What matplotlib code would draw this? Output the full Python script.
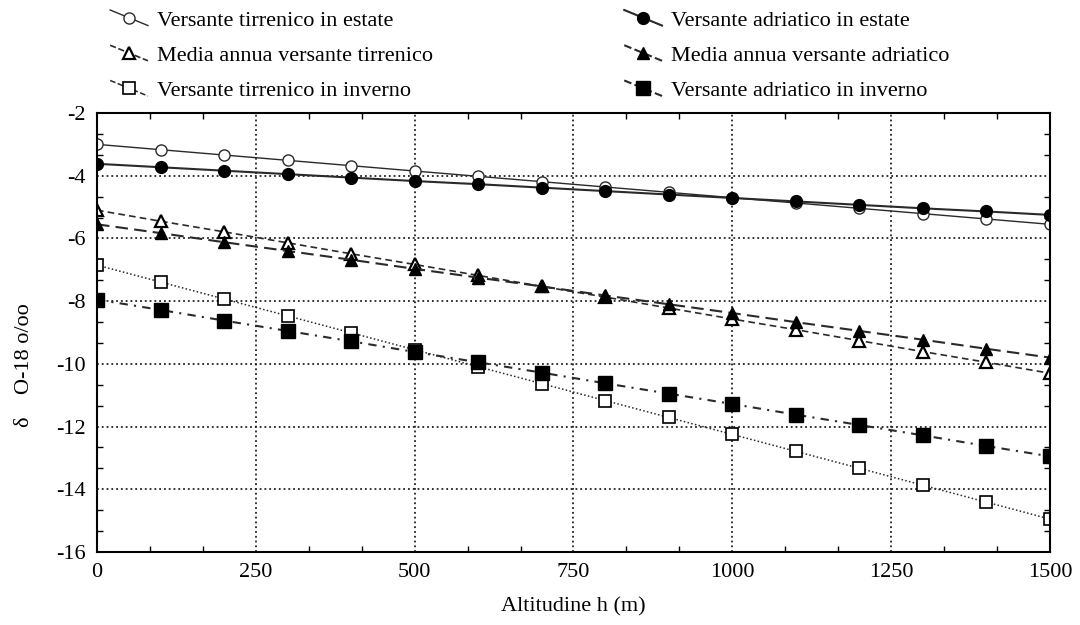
import matplotlib
matplotlib.use("Agg")
import matplotlib.pyplot as plt
from matplotlib.lines import Line2D
from matplotlib.legend_handler import HandlerBase
from matplotlib.ticker import AutoMinorLocator, MultipleLocator

# Altitude (m) and delta O-18 (per mil) for the two slopes
altitude = [0, 100, 200, 300, 400, 500, 600, 700, 800, 900, 1000, 1100, 1200, 1300, 1400, 1500]

tirr_estate = [-3.00, -3.17, -3.34, -3.51, -3.68, -3.85, -4.02, -4.19,
               -4.36, -4.53, -4.70, -4.87, -5.04, -5.21, -5.38, -5.55]
adri_estate = [-3.62, -3.73, -3.84, -3.95, -4.06, -4.17, -4.27, -4.38,
               -4.49, -4.60, -4.71, -4.82, -4.93, -5.04, -5.14, -5.25]
tirr_media = [-5.10, -5.45, -5.79, -6.14, -6.49, -6.83, -7.18, -7.53,
              -7.87, -8.22, -8.57, -8.91, -9.26, -9.61, -9.95, -10.30]
adri_media = [-5.55, -5.83, -6.12, -6.40, -6.68, -6.97, -7.25, -7.53,
              -7.82, -8.10, -8.38, -8.67, -8.95, -9.23, -9.52, -9.80]
tirr_inverno = [-6.85, -7.39, -7.93, -8.47, -9.01, -9.55, -10.09, -10.63,
                -11.17, -11.71, -12.25, -12.79, -13.33, -13.87, -14.41, -14.95]
adri_inverno = [-7.95, -8.28, -8.62, -8.95, -9.28, -9.62, -9.95, -10.28,
                -10.62, -10.95, -11.28, -11.62, -11.95, -12.28, -12.62, -12.95]

labels_tirr = ["Versante tirrenico in estate", "Media annua versante tirrenico",
               "Versante tirrenico in inverno"]
labels_adri = ["Versante adriatico in estate", "Media annua versante adriatico",
               "Versante adriatico in inverno"]

plt.rcParams['font.family'] = ['Liberation Serif', 'DejaVu Serif']
plt.rcParams['axes.unicode_minus'] = False

LINE_COL = '#2a2a2a'


class SlantHandler(HandlerBase):
    # legend key drawn as a short slanted segment with the marker in the middle
    def create_artists(self, legend, orig_handle, xdescent, ydescent,
                       width, height, fontsize, trans):
        x0 = -xdescent
        xs = [x0, x0 + width / 2, x0 + width]
        ys = [height * 1.0 - ydescent, height * 0.5 - ydescent, -ydescent]
        seg = Line2D(xs, ys, color=orig_handle.get_color(),
                     linestyle=orig_handle.get_linestyle(),
                     linewidth=orig_handle.get_linewidth())
        mk = Line2D([xs[1]], [ys[1]], linestyle='none',
                    marker=orig_handle.get_marker(),
                    markersize=orig_handle.get_markersize(),
                    markerfacecolor=orig_handle.get_markerfacecolor(),
                    markeredgecolor=orig_handle.get_markeredgecolor(),
                    markeredgewidth=orig_handle.get_markeredgewidth())
        seg.set_transform(trans)
        mk.set_transform(trans)
        return [seg, mk]


fig = plt.figure(figsize=(10.8, 6.25), dpi=100)
ax = fig.add_axes([0.0898, 0.1168, 0.8824, 0.7024])

h1, = ax.plot(altitude, tirr_estate, color=LINE_COL, lw=1.0, ls='-',
              marker='o', ms=8, mfc='white', mec=LINE_COL, mew=1.0)
h2, = ax.plot(altitude, tirr_media, color=LINE_COL, lw=1.2, ls=(0, (4, 2.5)),
              marker='^', ms=8, mfc='white', mec='black', mew=1.6)
h3, = ax.plot(altitude, tirr_inverno, color=LINE_COL, lw=1.1, ls=(0, (1, 1.5)),
              marker='s', ms=9, mfc='white', mec='black', mew=1.2)
h4, = ax.plot(altitude, adri_estate, color=LINE_COL, lw=1.5, ls='-',
              marker='o', ms=8.5, mfc='black', mec='black')
h5, = ax.plot(altitude, adri_media, color=LINE_COL, lw=1.5, ls=(0, (6, 3)),
              marker='^', ms=8.5, mfc='black', mec='black')
h6, = ax.plot(altitude, adri_inverno, color=LINE_COL, lw=1.5, ls=(0, (4, 3, 1, 3)),
              marker='s', ms=9.5, mfc='black', mec='black')

ax.set_xlim(0, 1500)
ax.set_ylim(-16, -2)
ax.xaxis.set_major_locator(MultipleLocator(250))
ax.yaxis.set_major_locator(MultipleLocator(2))
ax.xaxis.set_minor_locator(AutoMinorLocator(3))
ax.yaxis.set_minor_locator(AutoMinorLocator(3))
ax.tick_params(which='both', direction='in', top=True, right=True, labelsize=16)
ax.tick_params(which='major', length=0, pad=8)
ax.tick_params(which='minor', length=4, width=1)
ax.grid(True, which='major', color='#222222', ls=':', lw=1.3)
for sp in ax.spines.values():
    sp.set_linewidth(1.5)

ax.set_xlabel("Altitudine h (m)", fontsize=16, labelpad=11)
ax.set_ylabel("δ    O-18 o/oo", fontsize=16)
ax.yaxis.set_label_coords(-0.066, 0.426)

hmap = {Line2D: SlantHandler()}
leg_kw = dict(loc='upper left', frameon=False, fontsize=16, handlelength=1.7,
              handletextpad=0.4, labelspacing=0.66, borderpad=0, borderaxespad=0,
              handler_map=hmap)
fig.legend([h1, h2, h3], labels_tirr, bbox_to_anchor=(0.102, 0.984), **leg_kw)
fig.legend([h4, h5, h6], labels_adri, bbox_to_anchor=(0.578, 0.984), **leg_kw)

fig.savefig("out.png", dpi=100)
